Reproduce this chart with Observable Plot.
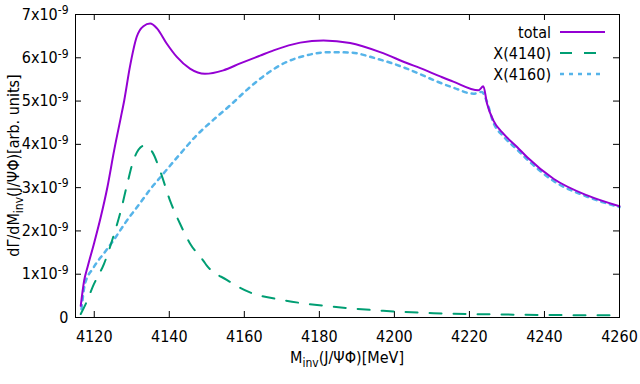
<!DOCTYPE html>
<html>
<head>
<meta charset="utf-8">
<script src="https://cdn.jsdelivr.net/npm/d3@7"></script>
<script src="https://cdn.jsdelivr.net/npm/@observablehq/plot@0.6"></script>
<style>
  body { margin: 0; background: #fff; }
  #chart svg { display: block; }
</style>
</head>
<body>
<div id="chart"></div>
<script>
// Values in units of 1e-9 (arb. units)
const totalM = [4116.4, 4117.3, 4118.2, 4119.9, 4121.7, 4123.5, 4125.3, 4127.1, 4128.0, 4129.5, 4131.3, 4133.1, 4134.9, 4136.7, 4139.3, 4142.0, 4145.5, 4149.5, 4154.4, 4158.9, 4164.2, 4167.8, 4174.9, 4181.1, 4188.2, 4196.2, 4203.3, 4206.9, 4212.2, 4215.7, 4222.4, 4223.7, 4224.7, 4226.4, 4229.1, 4232.7, 4235.4, 4242.5, 4251.4, 4260];
const totalV = [0.27, 0.85, 1.16, 1.70, 2.31, 3.01, 3.86, 4.63, 5.02, 5.79, 6.48, 6.73, 6.79, 6.68, 6.33, 6.02, 5.75, 5.63, 5.71, 5.87, 6.05, 6.17, 6.35, 6.40, 6.34, 6.13, 5.88, 5.76, 5.57, 5.45, 5.25, 5.34, 4.94, 4.55, 4.24, 3.94, 3.70, 3.20, 2.82, 2.57];

const x4140M = [4116.4, 4117.7, 4119.9, 4122.6, 4125.3, 4127.1, 4128.8, 4130.6, 4133.3, 4135.5, 4137.5, 4140.2, 4142.9, 4145.6, 4149.1, 4150.0, 4155.3, 4161.5, 4170.4, 4183.7, 4197.0, 4210.4, 4228.2, 4246.0, 4260];
const x4140V = [0.08, 0.31, 0.77, 1.24, 1.93, 2.47, 3.09, 3.67, 3.97, 3.82, 3.40, 2.70, 2.16, 1.70, 1.31, 1.20, 0.87, 0.58, 0.40, 0.25, 0.155, 0.10, 0.07, 0.055, 0.05];

const x4160M = [4116.6, 4117.5, 4119.7, 4122.9, 4125.1, 4128.7, 4132.2, 4135.0, 4138.0, 4142.6, 4147.3, 4151.8, 4156.2, 4160.7, 4165.5, 4169.6, 4176.7, 4182.9, 4188.2, 4195.3, 4203.3, 4206.9, 4211.4, 4215.7, 4221.1, 4223.3, 4224.5, 4226.4, 4229.1, 4232.7, 4235.4, 4242.5, 4251.4, 4260];
const x4160V = [0.19, 0.77, 1.14, 1.52, 1.78, 2.24, 2.64, 2.97, 3.28, 3.75, 4.21, 4.57, 4.90, 5.26, 5.60, 5.83, 6.06, 6.13, 6.12, 5.98, 5.75, 5.62, 5.45, 5.31, 5.17, 5.21, 5.02, 4.50, 4.18, 3.88, 3.65, 3.15, 2.79, 2.55];

const xTicks = [4120, 4140, 4160, 4180, 4200, 4220, 4240, 4260];
const yTicks = [0, 1, 2, 3, 4, 5, 6, 7];
const seriesNames = ["total", "X(4140)", "X(4160)"];
const seriesColors = ["#9400d3", "#009e73", "#56b4e9"];

const toRows = (ms, vs) => ms.map((m, i) => ({m, v: vs[i]}));
const totalRows = toRows(totalM, totalV);
const x4140Rows = toRows(x4140M, x4140V);
const x4160Rows = toRows(x4160M, x4160V);

const W = 640, H = 384;
const mL = 75, mR = 21, mT = 14, mB = 67;
const innerW = W - mL - mR, innerH = H - mT - mB;
const FONT = "'DejaVu Sans Condensed', 'DejaVu Sans', sans-serif";

const chart = Plot.plot({
  width: W, height: H,
  marginLeft: mL, marginRight: mR, marginTop: mT, marginBottom: mB,
  style: {fontFamily: FONT, fontSize: "16px", color: "black", background: "white"},
  x: {domain: [4115, 4260]},
  y: {domain: [0, 7]},
  marks: [
    Plot.axisX(xTicks, {tickSize: 0, tickPadding: 13, label: null, fontSize: 16, tickFormat: "d"}),
    Plot.axisY(yTicks, {tickSize: 0, tickPadding: 7, label: null, fontSize: 16,
      tickFormat: d => d === 0 ? "0" : `${d}x10|-9`}),
    Plot.ruleX(xTicks, {x: d => d, insetTop: innerH - 6, stroke: "black"}),
    Plot.ruleX(xTicks, {x: d => d, insetBottom: innerH - 6, stroke: "black"}),
    Plot.ruleY(yTicks, {y: d => d, insetRight: innerW - 6, stroke: "black"}),
    Plot.ruleY(yTicks, {y: d => d, insetLeft: innerW - 6, stroke: "black"}),
    Plot.line(x4160Rows, {x: "m", y: "v", stroke: seriesColors[2], strokeWidth: 2.5, strokeDasharray: "4,5", curve: "monotone-x"}),
    Plot.line(x4140Rows, {x: "m", y: "v", stroke: seriesColors[1], strokeWidth: 2, strokeDasharray: "12,12", curve: "monotone-x"}),
    Plot.line(totalRows, {x: "m", y: "v", stroke: seriesColors[0], strokeWidth: 2, curve: "monotone-x"}),
    Plot.frame({stroke: "black", strokeWidth: 1})
  ]
});

const svg = d3.select(chart);

// superscripts in y tick labels
svg.selectAll('g[aria-label="y-axis tick label"] text').each(function() {
  const t = d3.select(this);
  const s = t.text();
  if (s.includes("|")) {
    const [base, sup] = s.split("|");
    t.text(null);
    t.append("tspan").text(base);
    t.append("tspan").attr("dy", "-0.45em").attr("font-size", "12px").text(sup);
  }
});

// x axis label with subscript
const xl = svg.append("text")
  .attr("x", mL + innerW / 2).attr("y", 363)
  .attr("text-anchor", "middle").attr("font-family", FONT).attr("font-size", 16).attr("fill", "black");
xl.append("tspan").text("M");
xl.append("tspan").attr("font-size", 12).attr("dy", "4").text("inv");
xl.append("tspan").attr("dy", "-4").text("(J/ΨΦ)[MeV]");

// y axis label with subscript
const yl = svg.append("text")
  .attr("transform", `translate(19,${mT + innerH / 2}) rotate(-90)`)
  .attr("text-anchor", "middle").attr("font-family", FONT).attr("font-size", 16).attr("fill", "black");
yl.append("tspan").text("dΓ/dM");
yl.append("tspan").attr("font-size", 12).attr("dy", "4").text("inv");
yl.append("tspan").attr("dy", "-4").text("(J/ΨΦ)[arb. units]");

// legend
const legY = [32, 53, 74];
const dashes = [null, "12,12", "4,5"];
const widths = [2, 2, 2.5];
seriesNames.forEach((name, i) => {
  svg.append("text").attr("x", 551).attr("y", legY[i]).attr("dy", "0.35em")
    .attr("text-anchor", "end").attr("font-family", FONT).attr("font-size", 16).attr("fill", "black").text(name);
  const ln = svg.append("line").attr("x1", 560).attr("x2", 605).attr("y1", legY[i]).attr("y2", legY[i])
    .attr("stroke", seriesColors[i]).attr("stroke-width", widths[i]);
  if (dashes[i]) ln.attr("stroke-dasharray", dashes[i]);
});

document.getElementById("chart").appendChild(chart);
</script>
</body>
</html>
